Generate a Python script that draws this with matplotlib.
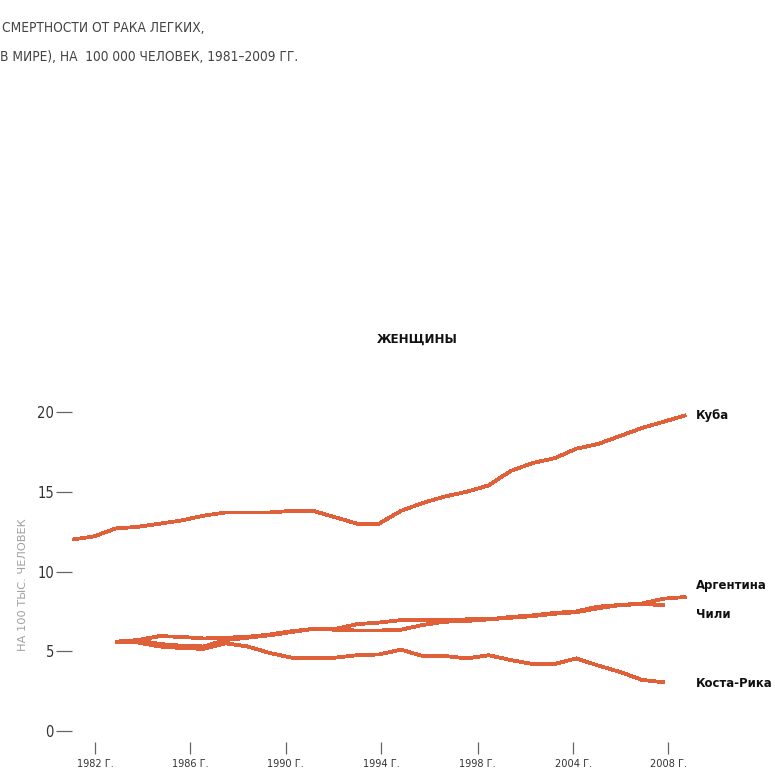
import matplotlib
matplotlib.use("Agg")
import matplotlib.pyplot as plt
import matplotlib.transforms as mtransforms
from matplotlib import font_manager

# --- data: lung cancer mortality among women, per 100 000 ---
years_full = list(range(1981, 2010))
cuba = [12.0, 12.2, 12.7, 12.8, 13.0, 13.2, 13.5, 13.7, 13.7, 13.7,
        13.8, 13.8, 13.4, 13.0, 13.0, 13.8, 14.3, 14.7, 15.0, 15.4,
        16.3, 16.8, 17.1, 17.7, 18.0, 18.5, 19.0, 19.4, 19.8]

years_arg = list(range(1983, 2010))
argentina = [5.6, 5.7, 5.95, 5.9, 5.8, 5.85, 5.9, 6.05, 6.25, 6.4,
             6.4, 6.7, 6.8, 6.95, 6.95, 6.95, 7.0, 7.0, 7.15, 7.25,
             7.4, 7.5, 7.8, 7.9, 8.0, 8.3, 8.4]

years_short = list(range(1983, 2009))
chile = [5.6, 5.7, 5.45, 5.35, 5.3, 5.7, 5.85, 6.0, 6.2, 6.4,
         6.35, 6.3, 6.3, 6.35, 6.65, 6.85, 6.9, 7.0, 7.1, 7.2,
         7.35, 7.45, 7.7, 7.9, 7.95, 7.9]
costa_rica = [5.6, 5.55, 5.3, 5.2, 5.15, 5.5, 5.3, 4.9, 4.6, 4.6,
              4.6, 4.75, 4.8, 5.1, 4.7, 4.7, 4.55, 4.75, 4.45, 4.2,
              4.2, 4.55, 4.1, 3.7, 3.2, 3.05]

series_names = ["Куба", "Аргентина", "Чили", "Коста-Рика"]
label_y = [19.8, 9.15, 7.3, 2.95]

xtick_labels = ["1982 Г.", "1986 Г.", "1990 Г.", "1994 Г.", "1998 Г.", "2004 Г.", "2008 Г."]
xtick_pos = [1982.05, 1986.4, 1990.75, 1995.1, 1999.5, 2003.85, 2008.2]
yticks = [0, 5, 10, 15, 20]

# --- fonts ---
installed = {f.name for f in font_manager.fontManager.ttflist}
narrow = "Liberation Sans Narrow" if "Liberation Sans Narrow" in installed else "DejaVu Sans"
narrow_kw = dict(family=[narrow, "DejaVu Sans"])
if narrow == "DejaVu Sans":
    narrow_kw["stretch"] = "condensed"

LINE = "#e0603a"

fig = plt.figure(figsize=(7.75, 7.74), dpi=100)
W, H = 775, 774

def ax_rect(left, top, right, bottom):
    return [left / W, 1 - bottom / H, (right - left) / W, (bottom - top) / H]

ax = fig.add_axes(ax_rect(72, 396, 690, 742))
ax.set_xlim(1981, 1981 + (690 - 72) / 21.93)
ax.set_ylim(-(742 - 731) / 15.95, (731 - 396) / 15.95)

for xs, ys in [(years_full, cuba), (years_arg, argentina),
               (years_short, chile), (years_short, costa_rica)]:
    ax.plot(xs, ys, color=LINE, lw=2.0, solid_capstyle="butt",
            solid_joinstyle="miter", antialiased=False)

for sp in ax.spines.values():
    sp.set_visible(False)

ax.set_yticks(yticks)
ax.set_yticklabels([str(v) for v in yticks], color="#333333", fontsize=10.5, **narrow_kw)
ax.tick_params(axis="y", direction="out", length=11.5, width=0.9, color="#666666", pad=1.5)
ax.set_xticks(xtick_pos)
ax.set_xticklabels(xtick_labels, color="#333333", fontsize=7.8, **narrow_kw)
ax.tick_params(axis="x", direction="out", length=8.5, width=0.9, color="#666666", pad=4)

ax.set_ylabel("НА 100 ТЫС. ЧЕЛОВЕК", color="#a0a0a0", fontsize=8.2,
              family="DejaVu Sans", labelpad=12)
ax.yaxis.set_label_coords(-0.072, (731 - 574) / (742 - 396))

trans = mtransforms.blended_transform_factory(ax.transAxes, ax.transData)
for name, yv in zip(series_names, label_y):
    ax.text(1 + 6 / (690 - 72), yv, name, transform=trans, ha="left", va="center",
            fontsize=9.4, fontweight="bold", color="#111111", **narrow_kw)

fig.text(417 / W, 1 - 339 / H, "ЖЕНЩИНЫ", ha="center", va="center",
         fontsize=8.6, fontweight="bold", color="#111111", family="DejaVu Sans")

fig.text(2 / W, 1 - 28 / H, "СМЕРТНОСТИ ОТ РАКА ЛЕГКИХ,", ha="left", va="center",
         fontsize=9.8, color="#444444", **narrow_kw)
fig.text(0.5 / W, 1 - 57 / H, "В МИРЕ), НА  100 000 ЧЕЛОВЕК, 1981–2009 ГГ.", ha="left",
         va="center", fontsize=9.8, color="#444444", **narrow_kw)

fig.savefig("out.png", dpi=100)
